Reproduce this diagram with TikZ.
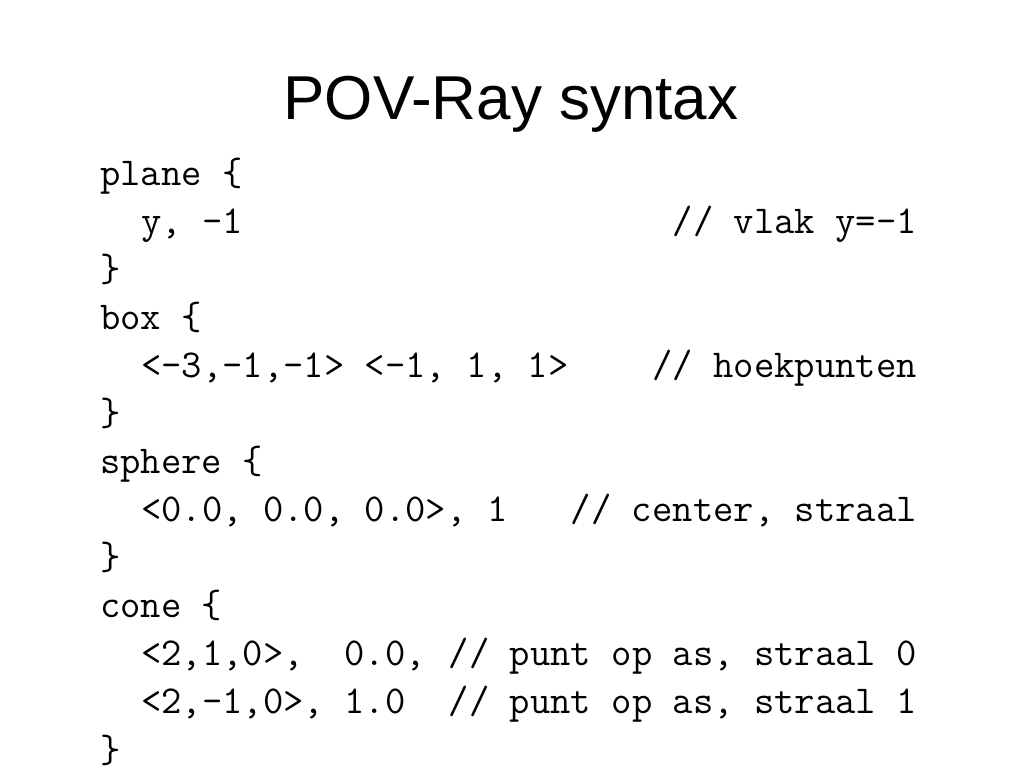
\documentclass[tikz,border=0pt]{standalone}
\usepackage{fontspec}
\setmainfont{Liberation Sans}
\tikzset{
    slidetitle/.style={anchor=base, inner sep=0pt, font=\fontsize{62}{70}\selectfont},
    codeline/.style={anchor=base west, inner sep=0pt, font=\fontsize{39.5}{44}\ttfamily},
    comment/.style={codeline, anchor=base east}
}
\begin{document}
\begin{tikzpicture}[x=1pt, y=-1pt]
    \useasboundingbox (0,0) rectangle (1024,768);
    \node[slidetitle] (title) at (511,119) {POV-Ray syntax};
    % code lines
    \node[codeline] (l1) at (100,185) {plane \{};
    \node[codeline] (l2) at (141,233) {y, -1};
    \node[comment] (c2) at (917,233) {// vlak y=-1};
    \node[codeline] (l3) at (100,281) {\}};
    \node[codeline] (l4) at (100,329) {box \{};
    \node[codeline] (l5) at (141,377) {<-3,-1,-1> <-1, 1, 1>};
    \node[comment] (c5) at (917,377) {// hoekpunten};
    \node[codeline] (l6) at (100,425) {\}};
    \node[codeline] (l7) at (100,473) {sphere \{};
    \node[codeline] (l8) at (141,521) {<0.0, 0.0, 0.0>, 1};
    \node[comment] (c8) at (917,521) {// center, straal};
    \node[codeline] (l9) at (100,569) {\}};
    \node[codeline] (l10) at (100,617) {cone \{};
    \node[codeline] (l11) at (141,665) {<2,1,0>,\ \ 0.0,};
    \node[comment] (c11) at (917,665) {// punt op as, straal 0};
    \node[codeline] (l12) at (141,713) {<2,-1,0>, 1.0};
    \node[comment] (c12) at (917,713) {// punt op as, straal 1};
    \node[codeline] (l13) at (100,762) {\}};
\end{tikzpicture}
\end{document}
